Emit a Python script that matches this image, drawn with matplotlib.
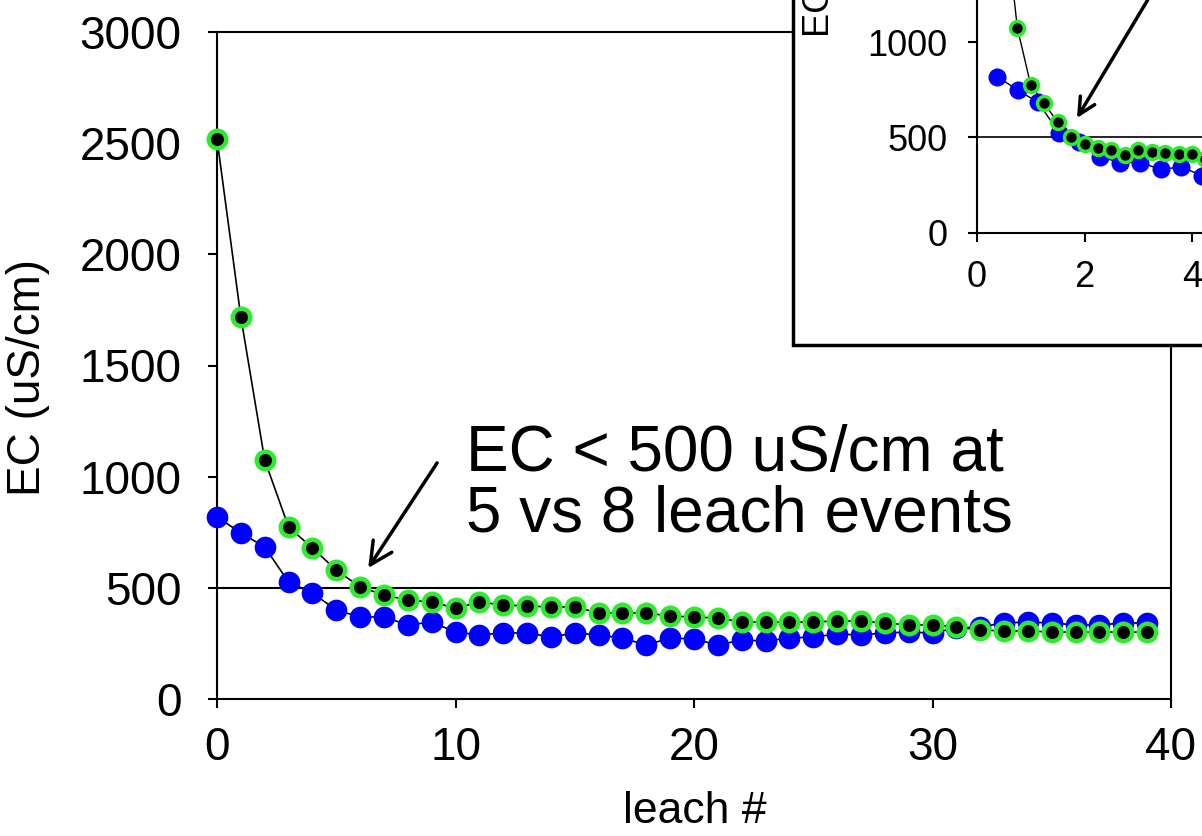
import matplotlib
matplotlib.use("Agg")
import matplotlib.pyplot as plt
from matplotlib.patches import Rectangle

plt.rcParams['font.family'] = ['Liberation Sans', 'DejaVu Sans']

# ---------------- data ----------------
leach = list(range(40))
ec_blue = [819, 747, 684, 526, 477, 400, 369, 369, 333, 346,
           301, 288, 297, 297, 279, 297, 288, 274, 243, 274,
           270, 243, 265, 261, 274, 279, 292, 288, 297, 301,
           297, 319, 324, 342, 346, 342, 333, 333, 342, 342]
ec_green = [2519, 1718, 1075, 774, 679, 580, 504, 468, 445, 436,
            409, 436, 423, 418, 414, 414, 387, 387, 387, 373,
            369, 364, 346, 346, 346, 346, 351, 351, 342, 333,
            333, 324, 310, 306, 306, 301, 301, 301, 301, 301]
# inset x values (cumulative scale used in the inset)
inset_x_blue = [0.38, 0.76, 1.14, 1.52, 1.90, 2.28, 2.66, 3.04, 3.42, 3.80,
                4.18, 4.56, 4.94, 5.32, 5.70, 6.08, 6.46, 6.84, 7.22, 7.60,
                7.98, 8.36, 8.74, 9.12, 9.50, 9.88, 10.26, 10.64, 11.02, 11.40,
                11.78, 12.16, 12.54, 12.92, 13.30, 13.68, 14.06, 14.44, 14.82, 15.20]
inset_x_green = [0.25, 0.50, 0.75, 1.00, 1.25, 1.50, 1.75, 2.00, 2.25, 2.50,
                 2.75, 3.00, 3.25, 3.50, 3.75, 4.00, 4.25, 4.50, 4.75, 5.00,
                 5.25, 5.50, 5.75, 6.00, 6.25, 6.50, 6.75, 7.00, 7.25, 7.50,
                 7.75, 8.00, 8.25, 8.50, 8.75, 9.00, 9.25, 9.50, 9.75, 10.00]
x_ticks = [0, 10, 20, 30, 40]
y_ticks = [0, 500, 1000, 1500, 2000, 2500, 3000]
inset_x_ticks = [0, 2, 4]
inset_y_ticks = [0, 500, 1000]
threshold = 500

BLUE = '#0000FF'
GREEN = '#2EEB2E'

W, H = 1202, 836
fig = plt.figure(figsize=(W / 100, H / 100), dpi=100)

def fx(px):
    return px / W

def fy(py):
    return 1 - py / H

# ---------------- main axes ----------------
ax = fig.add_axes([fx(217), fy(699), fx(1171) - fx(217), fy(32) - fy(699)])
ax.set_xlim(0, 40)
ax.set_ylim(0, 3000)
ax.axhline(threshold, color='black', lw=1.5, zorder=1)
ax.plot(leach, ec_blue, color='black', lw=1.2, marker='o', ms=15.6,
        mfc=BLUE, mec=BLUE, mew=0, zorder=3, clip_on=False)
ax.plot(leach, ec_green, color='black', lw=1.2, marker='o', ms=12.6,
        mfc='black', mec=GREEN, mew=3.2, zorder=4, clip_on=False)
ax.set_xticks(x_ticks)
ax.set_yticks(y_ticks)
ax.tick_params(direction='out', length=6.5, width=1.5, labelsize=33)
ax.tick_params(axis='y', pad=19)
ax.tick_params(axis='x', pad=13)
for s in ax.spines.values():
    s.set_linewidth(1.5)

fig.text(fx(695), fy(823), 'leach #', fontsize=32, ha='center', va='baseline')
fig.text(fx(28), fy(378), 'EC (uS/cm)', fontsize=33, rotation=90,
         ha='center', va='center')

ax.annotate('', xy=(6.34, 589), xytext=(9.23, 1062),
            arrowprops=dict(arrowstyle='->', lw=2.5, color='black',
                            mutation_scale=40, shrinkA=0, shrinkB=0))
fig.text(fx(466), fy(532), 'EC < 500 uS/cm at\n5 vs 8 leach events',
         fontsize=46, ha='left', va='baseline', linespacing=1.02)

# ---------------- inset ----------------
box = Rectangle((fx(793), fy(345)), 1.0, 1.0, transform=fig.transFigure,
                facecolor='white', edgecolor='black', lw=2.5, zorder=5)
fig.add_artist(box)

iax = fig.add_axes([fx(977), fy(233), (537.5) / W, 573 / H], zorder=6)
iax.set_facecolor('none')
iax.set_xlim(0, 10)
iax.set_ylim(0, 3000)
iax.axhline(threshold, color='black', lw=1.2, zorder=1)
iax.plot(inset_x_blue, ec_blue, color='black', lw=1.0, marker='o', ms=13,
         mfc=BLUE, mec=BLUE, mew=0, zorder=3)
iax.plot(inset_x_green, ec_green, color='black', lw=1.0, marker='o', ms=10,
         mfc='black', mec=GREEN, mew=2.5, zorder=4)
iax.set_xticks(inset_x_ticks)
iax.set_yticks(inset_y_ticks)
iax.tick_params(direction='out', length=6.5, width=1.5, labelsize=26)
iax.tick_params(axis='y', pad=15)
iax.tick_params(axis='x', pad=13)
for s in iax.spines.values():
    s.set_linewidth(1.5)
iax.spines['top'].set_visible(False)
iax.spines['right'].set_visible(False)

fig.text(fx(820), fy(37), 'EC (uS/cm)', fontsize=26, rotation=90,
         ha='center', va='bottom', zorder=7)

iax.annotate('', xy=(1.86, 602), xytext=(3.6, 1420),
             arrowprops=dict(arrowstyle='->', lw=2.5, color='black',
                             mutation_scale=30, shrinkA=0, shrinkB=0),
             annotation_clip=False)

fig.savefig('out.png', dpi=100)
